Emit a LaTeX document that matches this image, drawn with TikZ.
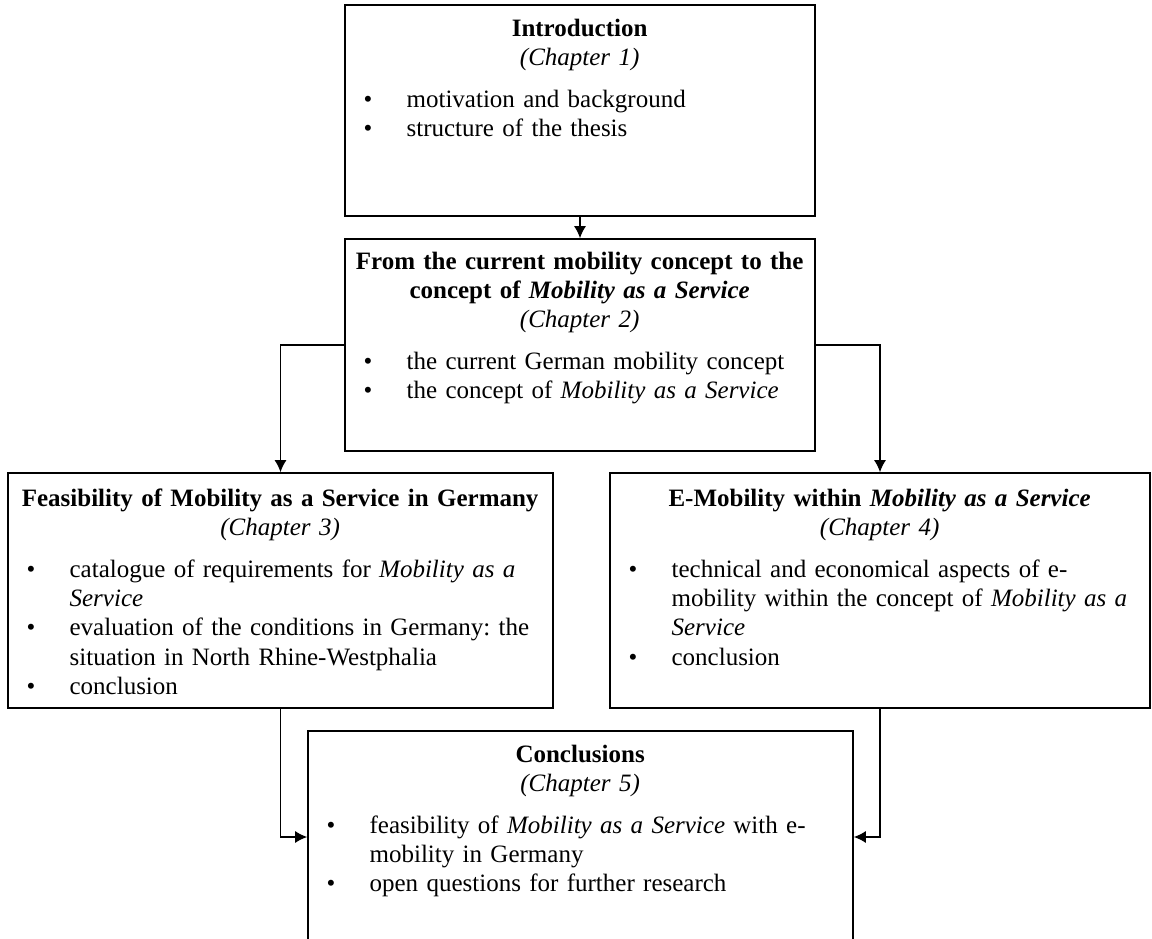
\documentclass[tikz,border=0pt]{standalone}
\usepackage{fontspec}
\setmainfont{Liberation Serif}
\usetikzlibrary{arrows.meta}
\newdimen\pxu \pxu=0.48pt
\setlength\parskip{0pt}
\frenchspacing
\newcommand\nl{\hfil\break}
\newcommand\bitem[1]{\par\hangindent=62\pxu\hangafter=1\noindent\makebox[62\pxu][l]{\hspace*{19\pxu}\textbullet}#1\par}
\newcommand\boxhead[2]{{\centering\bfseries #1\\\mdseries\itshape #2\par}\vspace{13\pxu}}
\tikzset{
  chapbox/.style={draw=black, line width=0.75pt, fill=none, inner sep=0pt},
  chaptext/.style={anchor=base west, inner sep=0pt,
    font=\fontsize{12pt}{14pt}\selectfont\frenchspacing},
  conn/.style={draw=black, line width=0.7pt, -{Latex[length=5.8pt,width=5.8pt]}}
}
\begin{document}
\begin{tikzpicture}[x=0.48pt, y=-0.48pt]
\useasboundingbox (0,0) rectangle (1152,939);
\clip (0,0) rectangle (1152,939);
% boxes
\node[chapbox, minimum width=470\pxu, minimum height=211\pxu] (b1) at (580,110.5) {};
\node[chapbox, minimum width=470\pxu, minimum height=212\pxu] (b2) at (580,345) {};
\node[chapbox, minimum width=545\pxu, minimum height=235\pxu] (b3) at (280.5,590.5) {};
\node[chapbox, minimum width=540\pxu, minimum height=235\pxu] (b4) at (880,590.5) {};
\node[chapbox, minimum width=545\pxu, minimum height=212\pxu] (b5) at (580.5,837) {};
% texts
\node[chaptext, text width=470\pxu] (t1) at ([yshift=-32\pxu]b1.north west) {%
  \boxhead{Introduction}{(Chapter 1)}%
  \bitem{motivation and background}%
  \bitem{structure of the thesis}};
\node[chaptext, text width=470\pxu] (t2) at ([yshift=-31\pxu]b2.north west) {%
  \boxhead{From the current mobility concept to the\\concept of \textit{Mobility as a Service}}{(Chapter 2)}%
  \bitem{the current German mobility concept}%
  \bitem{the concept of \textit{Mobility as a Service}}};
\node[chaptext, text width=545\pxu] (t3) at ([yshift=-34\pxu]b3.north west) {%
  \boxhead{Feasibility of Mobility as a Service in Germany}{(Chapter 3)}%
  \bitem{catalogue of requirements for \textit{Mobility as a}\nl\textit{Service}}%
  \bitem{evaluation of the conditions in Germany: the\nl situation in North Rhine-Westphalia}%
  \bitem{conclusion}};
\node[chaptext, text width=540\pxu] (t4) at ([yshift=-34\pxu]b4.north west) {%
  \boxhead{E-Mobility within \textit{Mobility as a Service}}{(Chapter 4)}%
  \bitem{technical and economical aspects of e-\nl mobility within the concept of \textit{Mobility as a}\nl\textit{Service}}%
  \bitem{conclusion}};
\node[chaptext, text width=545\pxu] (t5) at ([yshift=-32\pxu]b5.north west) {%
  \boxhead{Conclusions}{(Chapter 5)}%
  \bitem{feasibility of \textit{Mobility as a Service} with e-\nl mobility in Germany}%
  \bitem{open questions for further research}};
% connectors
\draw[conn] (b1.south) -- (b2.north);
\draw[conn] (b2.west) -| (b3.north);
\draw[conn] (b2.east) -| (b4.north);
\draw[conn] (b3.south) |- (b5.west);
\draw[conn] (b4.south) |- (b5.east);
\end{tikzpicture}
\end{document}
